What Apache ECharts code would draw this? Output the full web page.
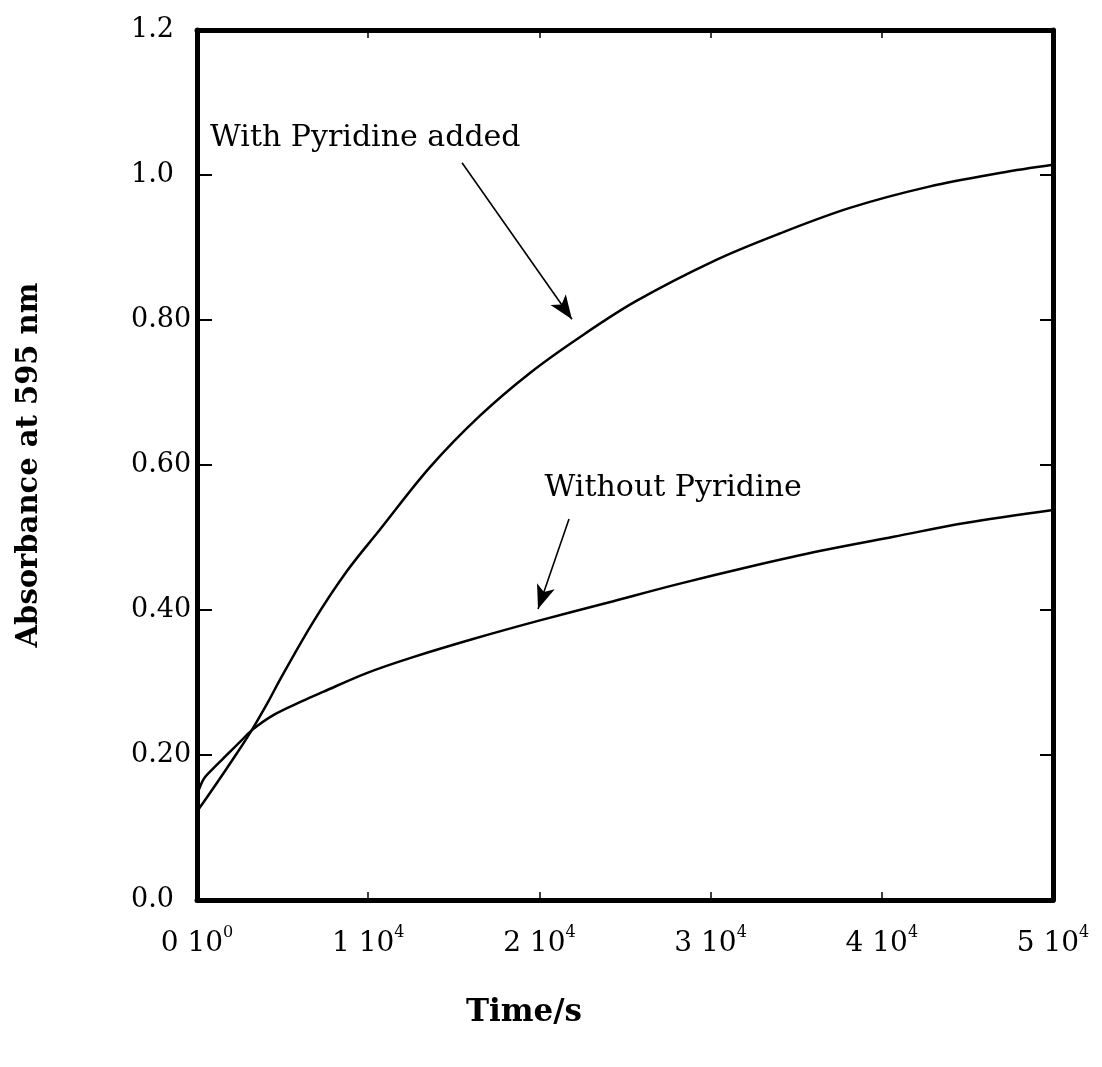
<!DOCTYPE html>
<html>
<head>
<meta charset="utf-8">
<script src="https://cdn.jsdelivr.net/npm/echarts@6/dist/echarts.min.js"></script>
<style>
  html, body { margin: 0; padding: 0; background: #fff; }
  #chart { width: 1102px; height: 1067px; }
</style>
</head>
<body>
<div id="chart"></div>
<script>
// values
const timeWith = [0, 1150, 2320, 3190, 4170, 4850, 6800, 8740, 10690, 13610, 16530, 19450, 22400, 25640, 30240, 34000, 38180, 42760, 46960, 50000]
const absWith = [0.122, 0.161, 0.202, 0.234, 0.274, 0.304, 0.384, 0.453, 0.511, 0.597, 0.668, 0.727, 0.777, 0.826, 0.882, 0.919, 0.955, 0.984, 1.003, 1.014]

const timeWithout = [0, 370, 760, 1540, 2510, 3190, 4460, 6210, 7360, 9910, 12620, 16120, 19920, 23970, 28150, 32330, 36510, 40690, 44860, 50000]
const absWithout = [0.145, 0.166, 0.177, 0.1955, 0.218, 0.234, 0.255, 0.275, 0.287, 0.313, 0.335, 0.360, 0.385, 0.410, 0.436, 0.460, 0.482, 0.501, 0.520, 0.538]

const yTickLabels = ['0.0', '0.20', '0.40', '0.60', '0.80', '1.0', '1.2']
const seriesNames = ['With Pyridine added', 'Without Pyridine']

// annotation anchors, in data coordinates
const noteWith = { at: [760, 1.051], from: [15480, 1.017], to: [21900, 0.801] }
const noteWithout = { at: [20300, 0.568], from: [21730, 0.5255], to: [19920, 0.4014] }

const FONT = 'DejaVu Serif'
const black = '#000'

function pairs(xs, ys) {
  return xs.map((x, i) => [x, ys[i]])
}

function annotation(note, text) {
  return {
    markPoint: {
      silent: true,
      symbol: 'rect',
      symbolSize: 0,
      data: [{ coord: note.at, value: text }],
      label: {
        show: true,
        position: 'right',
        distance: 0,
        formatter: text,
        color: black,
        fontFamily: FONT,
        fontSize: 30,
      },
    },
    markLine: {
      silent: true,
      symbol: ['none', 'arrow'],
      symbolSize: [14, 24],
      label: { show: false },
      lineStyle: { color: black, width: 1.6, type: 'solid' },
      emphasis: { disabled: true },
      data: [[{ coord: note.from }, { coord: note.to }]],
    },
  }
}

const frameLine = { show: true, onZero: false, lineStyle: { color: black, width: 5 } }

const chart = echarts.init(document.getElementById('chart'))
chart.setOption({
  animation: false,
  backgroundColor: '#fff',
  grid: { left: 197, right: 49, top: 30, bottom: 167, containLabel: false, outerBoundsMode: 'none' },
  xAxis: [
    {
      type: 'value', min: 0, max: 50000, interval: 10000, position: 'bottom',
      axisLine: frameLine,
      axisTick: { inside: true, length: 8, lineStyle: { color: black, width: 1.5 } },
      splitLine: { show: false },
      axisLabel: {
        margin: 26,
        formatter: (v) => `{n|${v / 10000} 10}{s|${v === 0 ? 0 : 4}}`,
        rich: {
          n: { fontFamily: FONT, fontSize: 28, color: black, lineHeight: 32, verticalAlign: 'bottom' },
          s: { fontFamily: FONT, fontSize: 16, color: black, lineHeight: 16, padding: [0, 0, 17, 0], verticalAlign: 'bottom' },
        },
      },
      name: 'Time/s',
      nameLocation: 'middle',
      nameGap: 97,
      nameTextStyle: { fontFamily: FONT, fontWeight: 'bold', fontSize: 31, color: black, padding: [0, 202, 0, 0] },
    },
    {
      type: 'value', min: 0, max: 50000, interval: 10000, position: 'top',
      axisLine: frameLine,
      axisTick: { inside: true, length: 8, lineStyle: { color: black, width: 1.5 } },
      axisLabel: { show: false },
      splitLine: { show: false },
    },
  ],
  yAxis: [
    {
      type: 'value', min: 0, max: 1.2, interval: 0.2, position: 'left',
      axisLine: frameLine,
      axisTick: { inside: true, length: 15, lineStyle: { color: black, width: 2 } },
      splitLine: { show: false },
      axisLabel: {
        align: 'left',
        margin: 66,
        fontFamily: FONT,
        fontSize: 27,
        color: black,
        formatter: (v, i) => yTickLabels[i],
      },
      name: 'Absorbance at 595 nm',
      nameLocation: 'middle',
      nameRotate: 90,
      nameGap: 153,
      nameTextStyle: { fontFamily: FONT, fontWeight: 'bold', fontSize: 29, color: black },
    },
    {
      type: 'value', min: 0, max: 1.2, interval: 0.2, position: 'right',
      axisLine: frameLine,
      axisTick: { inside: true, length: 13, lineStyle: { color: black, width: 2 } },
      axisLabel: { show: false },
      splitLine: { show: false },
    },
  ],
  series: [
    Object.assign({
      name: seriesNames[0],
      type: 'line',
      data: pairs(timeWith, absWith),
      showSymbol: false,
      smooth: 0.35,
      lineStyle: { color: black, width: 2.5 },
    }, annotation(noteWith, seriesNames[0])),
    Object.assign({
      name: seriesNames[1],
      type: 'line',
      data: pairs(timeWithout, absWithout),
      showSymbol: false,
      smooth: 0.35,
      lineStyle: { color: black, width: 2.5 },
    }, annotation(noteWithout, seriesNames[1])),
  ],
})
</script>
</body>
</html>
